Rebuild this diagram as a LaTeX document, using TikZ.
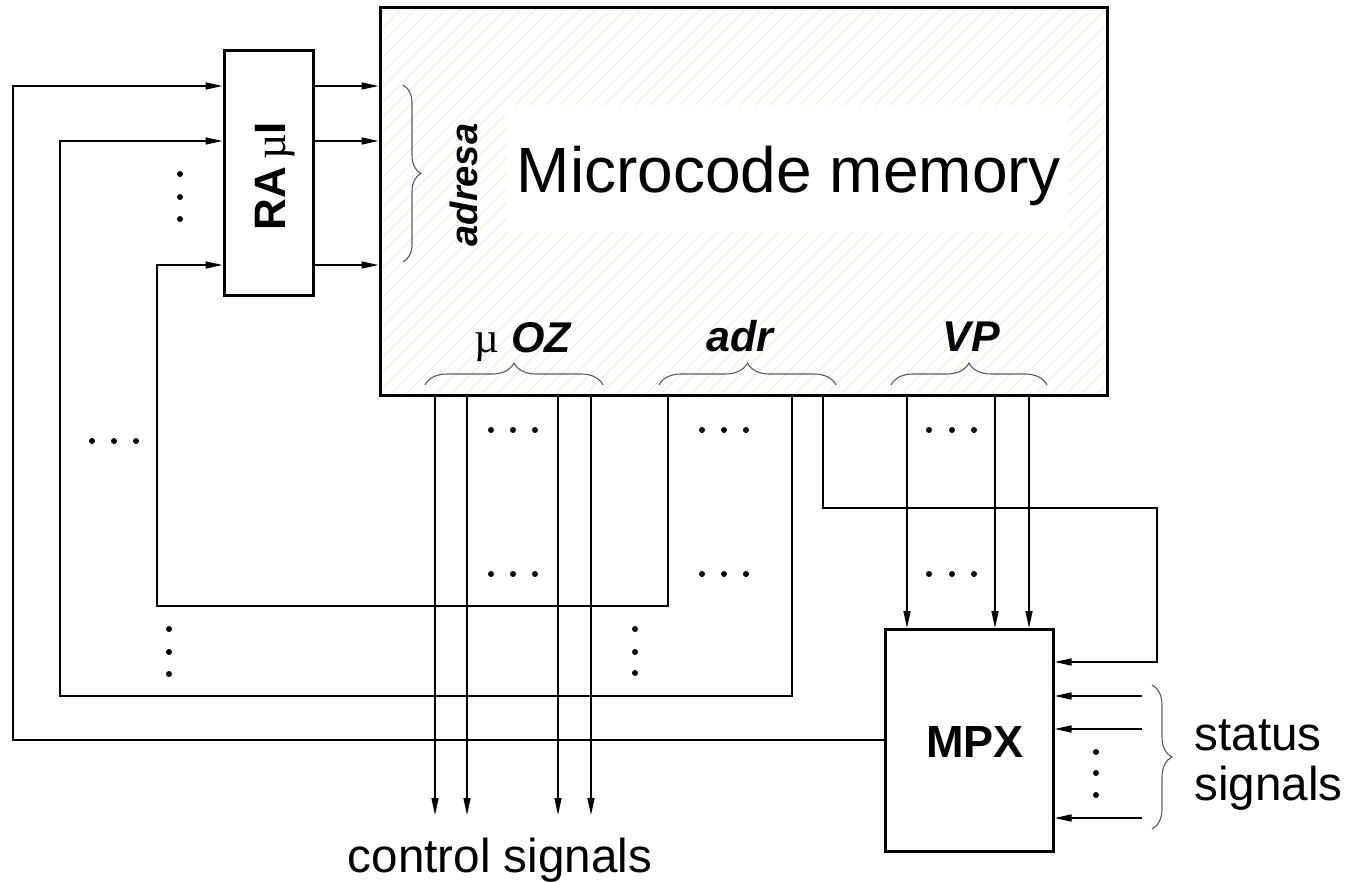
\documentclass[tikz,border=0pt]{standalone}
\usepackage{fontspec}
\setmainfont{Liberation Sans}
\newfontfamily\serifmu{Liberation Serif}
\usetikzlibrary{arrows.meta,decorations.pathreplacing}
\definecolor{hatchcol}{RGB}{240,236,212}
\definecolor{bracecol}{RGB}{90,90,90}
\begin{document}
\begin{tikzpicture}[x=1pt,y=-1pt,
  wire/.style={line width=1.5pt,black},
  arr/.style={wire,-{Triangle[length=17pt,width=7pt]}},
  blk/.style={draw,line width=3pt,inner sep=0pt},
  hatchline/.style={line width=1pt,hatchcol},
  brc/.style={draw=bracecol,line width=1.1pt,decorate,decoration={brace,amplitude=#1}},
  lbl/.style={font=\fontsize{43}{46}\selectfont\bfseries\itshape},
  big/.style={font=\fontsize{47.6}{50}\selectfont},
  dotm/.style={fill=black}]
\useasboundingbox (0,0) rectangle (1347,882);

% hatch of the memory
\begin{scope}
  \clip (380,8) rectangle (1107,396);
  \foreach \x in {-20,-5,...,1115} \draw[hatchline] (\x,400) -- ++(410,-410);
\end{scope}

% blocks
\node[blk,minimum width=727pt,minimum height=388pt] (mem) at (743.5,202) {};
\node[fill=white,inner sep=0pt,minimum width=561pt,minimum height=127pt] (titlebox) at (787.5,168.5) {};
\node[anchor=base,font=\fontsize{64}{70}\selectfont] (title) at (789,193) {Microcode memory};
\node[blk,fill=white,minimum width=89pt,minimum height=245pt] (ra) at (268.5,173.5) {};
\node[rotate=90,anchor=base,inner sep=0pt,font=\fontsize{44}{48}\selectfont\bfseries] (ralbl) at (285,176.5) {RA\,{\serifmu\mdseries µ}I};
\node[blk,fill=white,minimum width=168pt,minimum height=222pt] (mpx) at (969,740.5) {};
\node[anchor=base,inner sep=0pt,font=\fontsize{45}{48}\selectfont\bfseries] (mpxlbl) at (975,757) {MPX};

% labels inside memory
\node[rotate=90,anchor=base,inner sep=0pt,font=\fontsize{38}{42}\selectfont\bfseries\itshape] (adresa) at (477,185) {adresa};
\node[lbl,anchor=base,inner sep=0pt] (muoz) at (523,353) {{\serifmu\mdseries\upshape µ}\hspace{12pt}OZ};
\node[lbl,anchor=base,inner sep=0pt] (adr) at (740,352) {adr};
\node[lbl,anchor=base,inner sep=0pt] (vp) at (971,352) {VP};

% braces
\draw[brc=18pt] (403,85) -- (403,262);
\draw[brc=22pt] (425,385) -- (603,385);
\draw[brc=22pt] (659,385) -- (836,385);
\draw[brc=22pt] (891,385) -- (1047,385);
\draw[brc=20pt] (1152,685) -- (1152,829);

% RA -> memory
\foreach \y in {86,141,265} \draw[arr] (ra.east |- 0,\y) -- (mem.west |- 0,\y);

% feedback loops into RA
\draw[arr] (mpx.west |- 0,740) -| (13,86) -- (ra.west |- 0,86);
\draw[arr] (mem.south -| 792,0) |- (60,696) |- (ra.west |- 0,141);
\draw[arr] (mem.south -| 668,0) |- (157,606) |- (ra.west |- 0,265);

% control signals
\coordinate (ctl) at (500,815);
\foreach \x in {435,467,558,591} \draw[arr] (mem.south -| \x,0) -- (ctl -| \x,0);
\node[big,anchor=base] (ctllbl) at (500,872) {control signals};

% VP -> MPX
\foreach \x in {907,995,1029} \draw[arr] (mem.south -| \x,0) -- (mpx.north -| \x,0);
\draw[arr] (mem.south -| 823,0) |- (1157,508) |- (mpx.east |- 0,662);

% status signals
\coordinate (st) at (1142,0);
\foreach \y in {696,729,818} \draw[arr] (st |- 0,\y) -- (mpx.east |- 0,\y);
\node[big,anchor=base west] (stat1) at (1191,750) {status};
\node[big,anchor=base west] (stat2) at (1191,800) {signals};

% dots
\foreach \x/\y in {92/441,114/441,136/441,
                   180/174,180/197,180/219,
                   491/430,513/430,535/430, 702/430,724/430,746/430, 929/430,952/430,974/430,
                   491/574,513/574,535/574, 702/574,724/574,746/574, 929/574,952/574,974/574,
                   169/629,169/652,169/674, 635/629,635/652,635/673,
                   1096/752,1096/773,1096/795}
  \fill[dotm] (\x,\y) circle (3pt);
\end{tikzpicture}
\end{document}
